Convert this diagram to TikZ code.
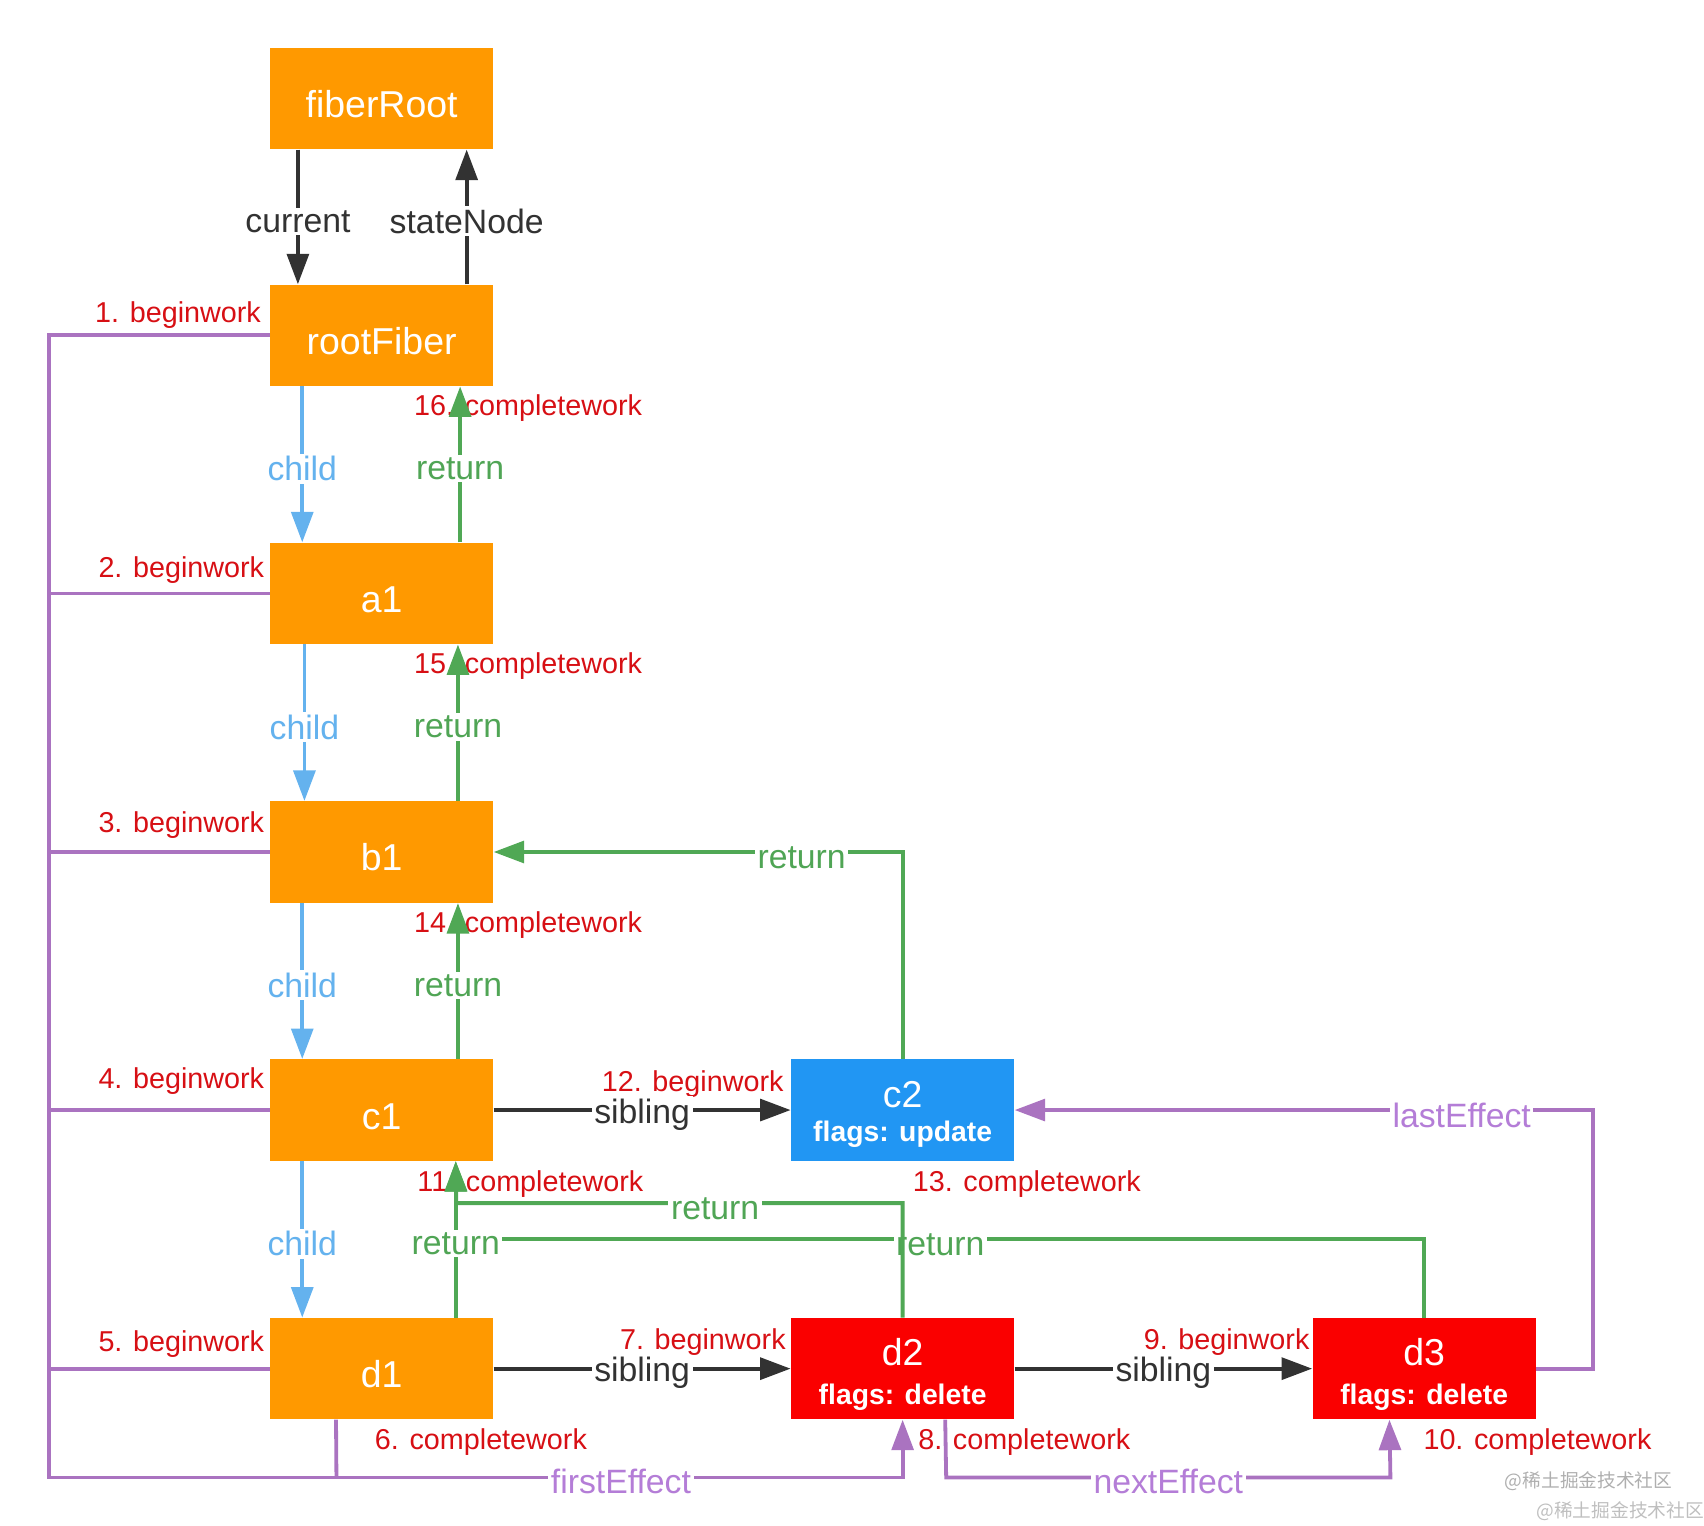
\documentclass[tikz,border=0pt]{standalone}
\usepackage{fontspec}
\setmainfont{Liberation Sans}
\newfontfamily\cjk{Noto Sans CJK SC}
\usetikzlibrary{arrows.meta,calc}
\definecolor{orng}{RGB}{255,153,0}
\definecolor{bluebox}{RGB}{33,150,243}
\definecolor{redbox}{RGB}{250,0,0}
\definecolor{darkc}{RGB}{50,50,50}
\definecolor{childc}{RGB}{100,178,238}
\definecolor{greenc}{RGB}{80,168,85}
\definecolor{greent}{RGB}{80,165,85}
\definecolor{purpc}{RGB}{170,115,192}
\definecolor{purpt}{RGB}{180,125,215}
\definecolor{redt}{RGB}{215,15,20}
\definecolor{wmark}{RGB}{175,175,175}
\tikzset{
  box/.style={rectangle, minimum width=102.5pt, minimum height=46.5pt, inner sep=0pt,
    text=white, font=\fontsize{17.2}{20}\selectfont, text height=17.4pt, text depth=0pt},
  obox/.style={box, fill=orng},
  bbox/.style={box, fill=bluebox},
  rbox/.style={box, fill=redbox},
  nametxt/.style={text=white, inner sep=0pt, font=\fontsize{17.2}{20}\selectfont},
  flagtxt/.style={text=white, inner sep=0pt, font=\fontsize{13}{15}\selectfont\bfseries},
  arr/.style={-{Triangle[length=14pt,width=10pt]}},
  conn/.style={line width=1.75pt},
  darkarr/.style={conn, arr, draw=darkc},
  childarr/.style={conn, arr, draw=childc},
  retarr/.style={conn, arr, draw=greenc},
  retline/.style={conn, draw=greenc},
  purpline/.style={conn, draw=purpc},
  purparr/.style={conn, arr, draw=purpc},
  lbl/.style={fill=white, inner sep=1.2pt, font=\fontsize{15.5}{18}\selectfont},
  redlbl/.style={text=redt, inner sep=0pt, font=\fontsize{13.2}{16}\selectfont},
}
\begin{document}
\begin{tikzpicture}[x=0.5pt,y=-0.5pt]
\useasboundingbox (0,0) rectangle (1565,1401.5);

% nodes
\node[obox] (fiberRoot) at (350.5,90.5) {fiberRoot};
\node[obox] (rootFiber) at (350.5,308) {rootFiber};
\node[obox] (a1) at (350.5,545) {a1};
\node[obox] (b1) at (350.5,782.5) {b1};
\node[obox] (c1) at (350.5,1019.5) {c1};
\node[obox] (d1) at (350.5,1257) {d1};
\node[bbox] (c2) at (829,1019.5) {};
\node[rbox] (d2) at (829,1257) {};
\node[rbox] (d3) at (1308,1257) {};
\node[nametxt] (c2name) at ($(c2.center)+(0,-14.5)$) {c2};
\node[flagtxt] (c2flag) at ($(c2.center)+(0,22.5)$) {flags: update};
\node[nametxt] (d2name) at ($(d2.center)+(0,-15)$) {d2};
\node[flagtxt] (d2flag) at ($(d2.center)+(0,26.5)$) {flags: delete};
\node[nametxt] (d3name) at ($(d3.center)+(0,-15)$) {d3};
\node[flagtxt] (d3flag) at ($(d3.center)+(0,26.5)$) {flags: delete};

% red step labels
\node[redlbl, anchor=base east] (s1) at (240,296) {1. beginwork};
\node[redlbl, anchor=base east] (s2) at (243,530) {2. beginwork};
\node[redlbl, anchor=base east] (s3) at (243,765) {3. beginwork};
\node[redlbl, anchor=base east] (s4) at (243,1000) {4. beginwork};
\node[redlbl, anchor=base east] (s5) at (243,1241) {5. beginwork};
\node[redlbl, anchor=base west] (s6) at (344,1331) {6. completework};
\node[redlbl, anchor=base east] (s7) at (722,1239) {7. beginwork};
\node[redlbl, anchor=base west] (s8) at (843,1331) {8. completework};
\node[redlbl, anchor=base east] (s9) at (1203,1239) {9. beginwork};
\node[redlbl, anchor=base west] (s10) at (1307,1331) {10. completework};
\node[redlbl, anchor=base west] (s11) at (383,1094) {11. completework};
\node[redlbl, anchor=base east] (s12) at (720,1002) {12. beginwork};
\node[redlbl, anchor=base west] (s13) at (838,1094) {13. completework};
\node[redlbl, anchor=base west] (s14) at (380,856) {14. completework};
\node[redlbl, anchor=base west] (s15) at (380,619) {15. completework};
\node[redlbl, anchor=base west] (s16) at (380,382) {16. completework};

% purple effect list / beginwork order
\draw[purpline] (a1.west) -- (45,545);
\draw[purpline] (b1.west) -- (45,782.5);
\draw[purpline] (c1.west) -- (45,1019.5);
\draw[purpline] (d1.west) -- (45,1257);
\draw[purpline] ($(d1.south west)+(61,0)$) -- (309,1357);
\draw[purparr] (rootFiber.west) -- (45,308) -- (45,1357)
  -- node[lbl, text=purpt, pos=0.67, yshift=-2pt] {firstEffect} (829,1357) -- (d2.south);
\draw[purparr] ($(d2.south west)+(142,0)$) -- (869,1357)
  -- node[lbl, text=purpt, yshift=-2pt] {nextEffect} (1277,1357) -- ($(d3.south west)+(71,0)$);
\draw[purparr] (d3.east) -- (1463,1257) -- (1463,1019.5)
  -- node[lbl, text=purpt, pos=0.227, yshift=-2.5pt] {lastEffect} (c2.east);

% current / stateNode
\draw[darkarr] ($(fiberRoot.south west)+(26,0)$) -- node[lbl, text=darkc, yshift=-2pt] {current} ($(rootFiber.north west)+(26,0)$);
\draw[darkarr] ($(rootFiber.north west)+(181,0)$) -- node[lbl, text=darkc, yshift=-2pt] {stateNode} ($(fiberRoot.south west)+(181,0)$);

% child arrows
\draw[childarr] ($(rootFiber.south west)+(30,0)$) -- node[lbl, text=childc, yshift=-2pt] {child} ($(a1.north west)+(30,0)$);
\draw[childarr] ($(a1.south west)+(32,0)$) -- node[lbl, text=childc, yshift=-2pt] {child} ($(b1.north west)+(32,0)$);
\draw[childarr] ($(b1.south west)+(30,0)$) -- node[lbl, text=childc, yshift=-2pt] {child} ($(c1.north west)+(30,0)$);
\draw[childarr] ($(c1.south west)+(30,0)$) -- node[lbl, text=childc, yshift=-2pt] {child} ($(d1.north west)+(30,0)$);

% return arrows (vertical)
\draw[retarr] ($(a1.north west)+(175,0)$) -- node[lbl, text=greent, yshift=-2pt] {return} ($(rootFiber.south west)+(175,0)$);
\draw[retarr] ($(b1.north west)+(173,0)$) -- node[lbl, text=greent, yshift=-2pt] {return} ($(a1.south west)+(173,0)$);
\draw[retarr] ($(c1.north west)+(173,0)$) -- node[lbl, text=greent, yshift=-2pt] {return} ($(b1.south west)+(173,0)$);

% sibling return paths
\draw[retarr] (c2.north) -- (829,782.5) -- node[lbl, text=greent, pos=0.247, yshift=-2.5pt] {return} (b1.east);
\draw[retline] (d3.north) -- (1308,1138) -- node[lbl, text=greent, yshift=-2.5pt] {return} (419,1138);
\draw[retarr] (d2.north) -- (829,1105) -- node[lbl, text=greent, pos=0.42, yshift=-2.5pt] {return} (419,1105) -- ($(c1.south west)+(171,0)$);
\draw[retarr] ($(d1.north west)+(171,0)$) -- node[lbl, text=greent, yshift=-2pt] {return} ($(c1.south west)+(171,0)$);

% sibling arrows
\draw[darkarr] (c1.east) -- node[lbl, text=darkc, yshift=-2pt] {sibling} (c2.west);
\draw[darkarr] (d1.east) -- node[lbl, text=darkc, yshift=-2pt] {sibling} (d2.west);
\draw[darkarr] (d2.east) -- node[lbl, text=darkc, yshift=-2pt] {sibling} (d3.west);

% watermark
\node[text=wmark, inner sep=0pt, font=\cjk\fontsize{8.6}{10}\selectfont] (wm1) at (1459,1360) {@稀土掘金技术社区};
\node[text=wmark!80, inner sep=0pt, font=\cjk\fontsize{8.6}{10}\selectfont] (wm2) at (1488,1388) {@稀土掘金技术社区};
\end{tikzpicture}
\end{document}
